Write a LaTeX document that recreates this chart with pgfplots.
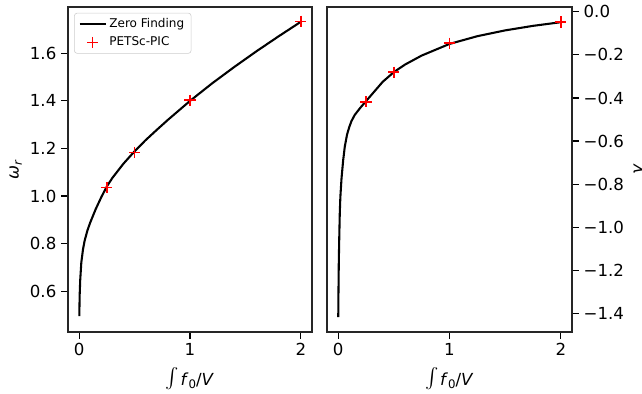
\documentclass[border=0pt]{standalone}
\usepackage{pgfplots}
\pgfplotsset{compat=1.18}
\usepackage{graphicx}
\usepackage{fontspec}
\setmainfont{DejaVu Sans}
\pgfplotsset{
  lineleg/.style={legend image code/.code={\draw[##1] (0in,0in) -- (0.26in,0in);}},
  markleg/.style={legend image code/.code={\draw[##1] plot coordinates {(0.13in,0in)};}},
}
\newcommand{\intlabel}{\raisebox{0.1ex}{\scalebox{1.45}{$\int$}}\kern1pt\textit{f}\raisebox{-0.35ex}{\fontsize{8.5}{9}\selectfont 0}/\textit{V}}
\begin{document}
\begin{tikzpicture}[font=\fontsize{12}{14}\selectfont]
\useasboundingbox (0,0) rectangle (6.42in,3.94in);
\pgfplotsset{
  every axis/.style={
    scale only axis, width=2.44in, height=3.25in,
    axis line style={line width=0.8pt, black!85},
    every tick/.style={line width=0.8pt, black},
    major tick length=4.9pt,
    tick align=outside,
    xtick pos=bottom,
    xmin=-0.1, xmax=2.1,
    xtick={0,1,2},
    /pgf/number format/assume math mode=true,
    xlabel={\intlabel},
    xlabel style={yshift=-1pt},
    tick label style={font=\fontsize{12}{14}\selectfont},
  },
}
\begin{axis}[at={(0.68in,0.62in)}, anchor=south west,
  ymin=0.428, ymax=1.795,
  ytick={0.6,0.8,1.0,1.2,1.4,1.6},
  yticklabels={0.6,0.8,1.0,1.2,1.4,1.6},
  ytick pos=left,
  ylabel={\textit{ω}\raisebox{-0.35ex}{\fontsize{8.5}{9}\selectfont\textit{r}}},
  ylabel style={yshift=-1pt},
  legend style={at={(0.025,0.982)}, anchor=north west, draw=black!20, rounded corners=2pt,
    font=\fontsize{8.7}{10}\selectfont, inner xsep=3pt, inner ysep=2pt, row sep=1pt},
  legend cell align=left,
]
\addplot[black, line width=1.5pt, lineleg] coordinates {
(0.002,0.495) (0.005,0.58) (0.01,0.645) (0.02,0.72) (0.035,0.775) (0.05,0.812)
(0.075,0.855) (0.1,0.888) (0.15,0.945) (0.2,0.995) (0.25,1.04) (0.3,1.076)
(0.4,1.136) (0.5,1.188) (0.6,1.235) (0.7,1.278) (0.8,1.32) (0.9,1.36) (1.0,1.40)
(1.2,1.474) (1.4,1.543) (1.6,1.609) (1.8,1.672) (2.0,1.733)};
\addlegendentry{Zero Finding}
\addplot[only marks, mark=+, mark size=4pt, mark options={red, line width=1.1pt}, markleg] coordinates {
(0.25,1.035) (0.5,1.183) (1.0,1.403) (2.0,1.735)};
\addlegendentry{PETSc-PIC}
\end{axis}
\begin{axis}[at={(3.27in,0.62in)}, anchor=south west, width=2.45in,
  ymin=-1.487, ymax=0.0226,
  ytick={-1.4,-1.2,-1.0,-0.8,-0.6,-0.4,-0.2,0.0},
  yticklabels={−1.4,−1.2,−1.0,−0.8,−0.6,−0.4,−0.2,0.0},
  ytick pos=right, yticklabel pos=right,
  ylabel={\textit{γ}},
  ylabel style={overlay},
]
\addplot[black, line width=1.5pt] coordinates {
(0.001,-1.418) (0.003,-1.30) (0.006,-1.16) (0.01,-1.05) (0.015,-0.93) (0.02,-0.86)
(0.03,-0.776) (0.045,-0.69) (0.06,-0.625) (0.08,-0.57) (0.1,-0.535) (0.12,-0.507)
(0.15,-0.478) (0.2,-0.445) (0.25,-0.415) (0.3,-0.385) (0.4,-0.325) (0.5,-0.28)
(0.6,-0.245) (0.75,-0.203) (1.0,-0.149) (1.25,-0.113) (1.5,-0.086) (1.75,-0.065) (2.0,-0.048)};
\addplot[only marks, mark=+, mark size=4pt, mark options={red, line width=1.1pt}] coordinates {
(0.25,-0.418) (0.5,-0.280) (1.0,-0.145) (2.0,-0.047)};
\end{axis}
\end{tikzpicture}
\end{document}
